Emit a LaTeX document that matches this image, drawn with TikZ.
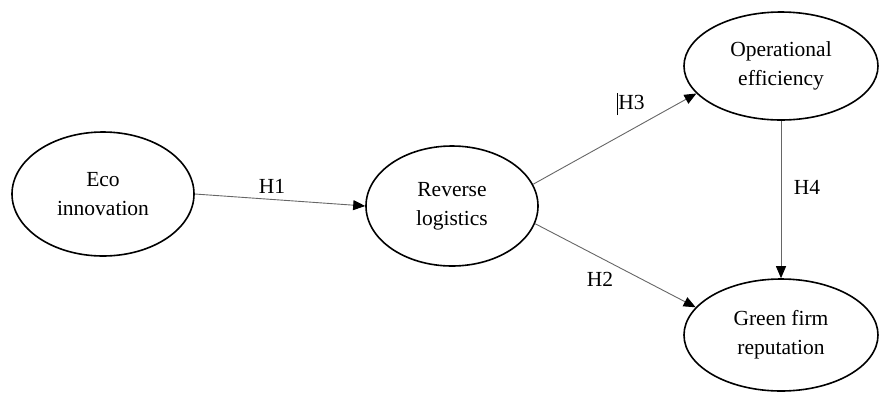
\documentclass[tikz,border=0pt]{standalone}
\usepackage{fontspec}
\setmainfont{Liberation Serif}
\usetikzlibrary{shapes.geometric,arrows.meta}
\begin{document}
\begin{tikzpicture}[x=1pt,y=-1pt,
  construct/.style={draw=black,line width=1.6pt,ellipse,inner sep=0pt,align=center,
    font=\fontsize{21.5}{29}\selectfont},
  path/.style={draw=black!60,line width=0.9pt,-{Triangle[length=12pt,width=10pt,fill=black,color=black]}},
  hlabel/.style={font=\fontsize{21.5}{26}\selectfont,inner sep=0pt}]
\useasboundingbox (0,0) rectangle (879,392);
\node[construct,minimum width=182pt,minimum height=124pt] (eco) at (103,194) {Eco\\innovation};
\node[construct,minimum width=172pt,minimum height=120pt] (rl) at (452,206) {Reverse\\logistics};
\node[construct,minimum width=194pt,minimum height=108pt] (op) at (781,66) {Operational\\efficiency};
\node[construct,minimum width=194pt,minimum height=112pt] (gr) at (781,335) {Green firm\\reputation};
\draw[path] (eco.east) -- (rl.west);
\draw[path] (rl.15) -- (op.198);
\draw[path] (rl.-12) -- (gr.162);
\draw[path] (op.south) -- (gr.north);
\node[hlabel] (h1) at (272,186) {H1};
\node[hlabel] (h3) at (631,104) {\vrule width 1.2pt height 16pt depth 6pt H3};
\node[hlabel] (h2) at (600,279) {H2};
\node[hlabel] (h4) at (807,187) {H4};
\end{tikzpicture}
\end{document}
